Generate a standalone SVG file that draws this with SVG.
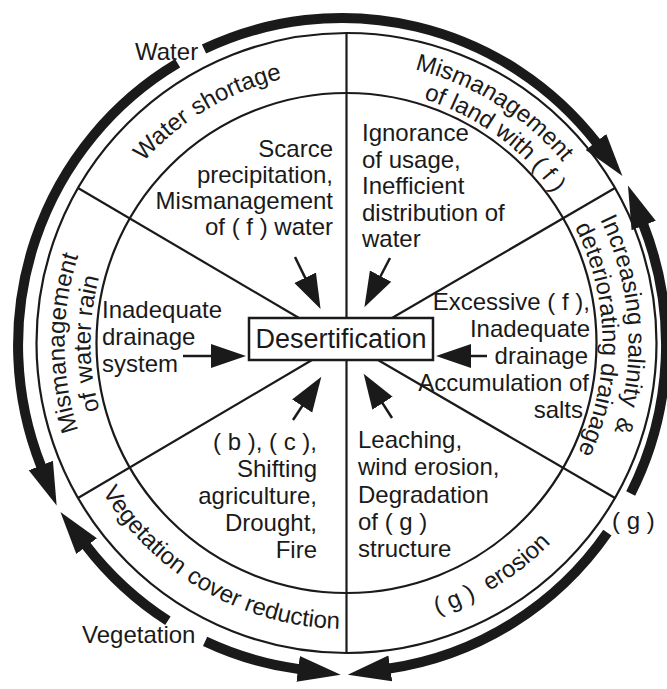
<svg xmlns="http://www.w3.org/2000/svg" width="667" height="689" viewBox="0 0 667 689">
<style>
.ln{stroke:#1a1a1a;stroke-width:2.2;fill:none}
.thick{stroke:#1a1a1a;stroke-width:10;fill:none;marker-end:url(#bigArrow)}
.arr{stroke:#1a1a1a;stroke-width:2.5;fill:none;marker-end:url(#smallArrow)}
.t{font-family:"Liberation Sans",Arial,sans-serif;font-size:24px;fill:#1a1a1a}
.e{text-anchor:end}
.m{text-anchor:middle}
</style>
<defs>
<marker id="bigArrow" markerUnits="userSpaceOnUse" markerWidth="46" markerHeight="30" viewBox="0 0 46 30" refX="1" refY="15" orient="auto"><path d="M0,2 L43,15 L0,28 Z" fill="#1a1a1a"/></marker>
<marker id="smallArrow" markerUnits="userSpaceOnUse" markerWidth="37" markerHeight="26" viewBox="0 0 37 26" refX="1" refY="13" orient="auto"><path d="M0,1 L35,13 L0,25 Z" fill="#1a1a1a"/></marker>
<path id="pWS" d="M 110.9 207 A 272 272 0 0 1 337.0 71.2"/>
<path id="pML1" d="M 414.7 69.4 A 282 282 0 0 1 611.5 246.6"/>
<path id="pML2" d="M 423.5 98.9 A 256 256 0 0 1 587.1 255.4"/>
<path id="pIS1" d="M 600.0 219.4 A 282 282 0 0 1 562.5 524.3"/>
<path id="pIS2" d="M 574.6 226.8 A 256 256 0 0 1 542.6 507.6"/>
<path id="pMW1" d="M 102.3 484 A 282 282 0 0 1 102.3 202"/>
<path id="pMW2" d="M 124.8 471 A 256 256 0 0 1 124.8 215"/>
<path id="pVC" d="M 98.8 486 A 286 286 0 0 0 346.5 629"/>
<path id="pGE" d="M 366.5 628.3 A 286 286 0 0 0 594.2 486"/>
</defs>
<rect width="667" height="689" fill="#fff"/>

<g id="frame" class="ln">
<circle cx="346.5" cy="343" r="310"/>
<circle cx="346.5" cy="343" r="250"/>
<line x1="346.5" y1="33" x2="346.5" y2="318"/>
<line x1="346.5" y1="360" x2="346.5" y2="653"/>
<line x1="78" y1="188" x2="299" y2="318"/>
<line x1="615" y1="188" x2="392" y2="318"/>
<line x1="78" y1="498" x2="312" y2="360"/>
<line x1="615" y1="498" x2="378" y2="360"/>
</g>

<g id="desertification">
<rect x="249" y="318" width="184" height="42" fill="#fff" stroke="#1a1a1a" stroke-width="2.5"/>
<text class="t m" x="341" y="348" style="font-size:27px">Desertification</text>
</g>

<g id="cause-top-left" class="t e">
<text x="333" y="157">Scarce</text>
<text x="333" y="183">precipitation,</text>
<text x="333" y="209">Mismanagement</text>
<text x="333" y="235">of ( f ) water</text>
</g>
<g id="cause-top-right" class="t">
<text x="362" y="141">Ignorance</text>
<text x="362" y="168">of usage,</text>
<text x="362" y="194">Inefficient</text>
<text x="362" y="221">distribution of</text>
<text x="362" y="247">water</text>
</g>
<g id="cause-left" class="t">
<text x="102" y="318">Inadequate</text>
<text x="102" y="345">drainage</text>
<text x="102" y="372">system</text>
</g>
<g id="cause-right" class="t e">
<text x="590" y="310">Excessive ( f ),</text>
<text x="590" y="337">Inadequate</text>
<text x="588" y="364">drainage</text>
<text x="589" y="391">Accumulation of</text>
<text x="583" y="418">salts</text>
</g>
<g id="cause-bottom-left" class="t e">
<text x="317" y="450">( b ), ( c ),</text>
<text x="317" y="477">Shifting</text>
<text x="317" y="504">agriculture,</text>
<text x="317" y="531">Drought,</text>
<text x="317" y="558">Fire</text>
</g>
<g id="cause-bottom-right" class="t">
<text x="358" y="448">Leaching,</text>
<text x="358" y="475">wind erosion,</text>
<text x="358" y="503">Degradation</text>
<text x="358" y="530">of ( g )</text>
<text x="358" y="557">structure</text>
</g>

<g id="ring-water-shortage" class="t">
<text><textPath href="#pWS" startOffset="55.6">Water</textPath></text>
<text><textPath href="#pWS" startOffset="126.3">shortage</textPath></text>
</g>
<g id="ring-land" class="t">
<text><textPath href="#pML1">Mismanagement</textPath></text>
<text><textPath href="#pML2" startOffset="0">of</textPath></text>
<text><textPath href="#pML2" startOffset="26.7">land</textPath></text>
<text><textPath href="#pML2" startOffset="78.7">with</textPath></text>
<text><textPath href="#pML2" startOffset="128">( f )</textPath></text>
</g>
<g id="ring-salinity" class="t">
<text><textPath href="#pIS1" startOffset="0">Increasing</textPath></text>
<text><textPath href="#pIS1" startOffset="117.4">salinity</textPath></text>
<text><textPath href="#pIS1" startOffset="202">&amp;</textPath></text>
<text><textPath href="#pIS2" startOffset="0">deteriorating</textPath></text>
<text><textPath href="#pIS2" startOffset="140.1">drainage</textPath></text>
</g>
<g id="ring-water-rain" class="t">
<text><textPath href="#pMW1" startOffset="50%" text-anchor="middle">Mismanagement</textPath></text>
<text><textPath href="#pMW2" startOffset="66">of</textPath></text>
<text><textPath href="#pMW2" startOffset="95">water</textPath></text>
<text><textPath href="#pMW2" startOffset="160.4">rain</textPath></text>
</g>
<g id="ring-vegetation" class="t">
<text><textPath href="#pVC" startOffset="7">Vegetation</textPath></text>
<text><textPath href="#pVC" startOffset="128.4">cover</textPath></text>
<text><textPath href="#pVC" startOffset="193.8">reduction</textPath></text>
</g>
<g id="ring-erosion" class="t">
<text><textPath href="#pGE" startOffset="72">( g )</textPath></text>
<text><textPath href="#pGE" startOffset="129">erosion</textPath></text>
</g>

<g id="label-water" class="t"><text x="135" y="60">Water</text></g>
<g id="label-vegetation" class="t"><text x="82" y="643">Vegetation</text></g>
<g id="label-g" class="t"><text x="612" y="529">( g )</text></g>

<g id="connectors">
<path class="arr" d="M295,257 L305.6,278.6"/>
<path class="arr" d="M390,258 L380.1,277"/>
<path class="arr" d="M183,356 L212,356"/>
<path class="arr" d="M487,356 L470,356"/>
<path class="arr" d="M293,420 L302.7,405.2"/>
<path class="arr" d="M392,418 L382,402.4"/>
<path class="thick" d="M 204.0 49.1 A 324 327 0 0 1 596.6 142.8"/>
<path class="thick" d="M 177.6 63.3 A 324 327 0 0 0 41.2 466.4"/>
<path class="thick" d="M 167.9 620.8 A 324 327 0 0 1 86.0 545.4"/>
<path class="thick" d="M 205.1 641.4 A 324 327 0 0 0 299.1 669.1"/>
<path class="thick" d="M 607.4 532.6 A 324 327 0 0 1 389.3 668.5"/>
<path class="thick" d="M 630.7 493.5 A 324 327 0 0 0 643.3 224.6"/>
</g>
</svg>
